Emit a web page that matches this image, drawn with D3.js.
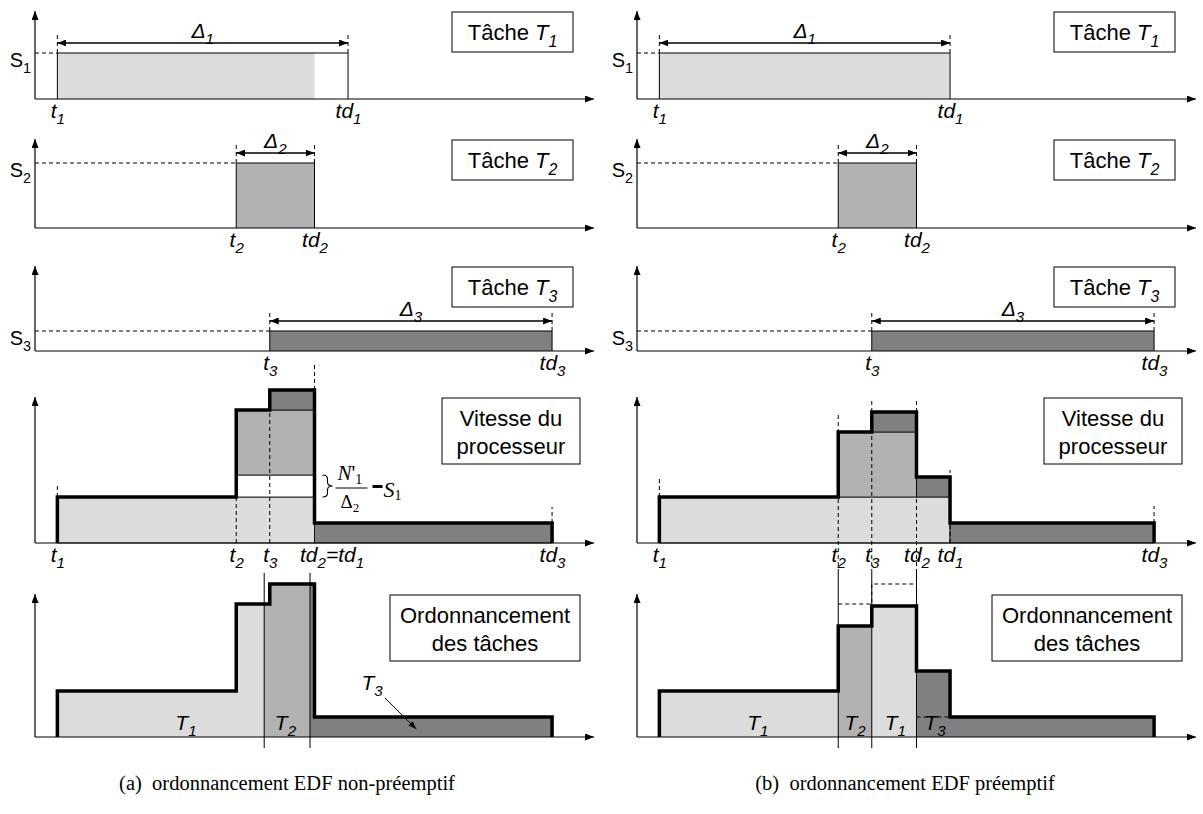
<!DOCTYPE html>
<html lang="fr">
<head>
<meta charset="utf-8">
<title>Ordonnancement EDF</title>
<script src="https://cdn.jsdelivr.net/npm/d3@7/dist/d3.min.js"></script>
<style>
  html, body { margin: 0; padding: 0; background: #fff; }
  svg { display: block; }
  text { white-space: pre; }
</style>
</head>
<body>
<svg id="fig" width="1203" height="814"></svg>
<script>
// ---- task set (time axis 0..100, speed in arbitrary units) ----
const taskNames    = ["T1", "T2", "T3"];
const releaseTimes = [4, 36, 42];
const deadlines    = [56, 50, 92.5];
const taskSpeeds   = [4.6, 6.5, 2.0];
const t1DoneNP     = 50;    // T1 completes at td2 without preemption
const extraSpeedT1 = 2.2;   // N'1/Δ2 − S1

// processor speed profiles: [time, speed] steps
const profileNP = [[4, 4.6], [36, 13.3], [42, 15.3], [50, 2.0], [92.5, 2.0]];
const profileP  = [[4, 4.6], [36, 11.1], [42, 13.1], [50, 6.6], [56, 2.0], [92.5, 2.0]];

// stacked contributions to the processor speed
const layersNP = [
  { task: "T1",    t0: 4,  t1: 50,   s0: 0,    s1: 4.6 },
  { task: "extra", t0: 36, t1: 50,   s0: 4.6,  s1: 6.8 },
  { task: "T2",    t0: 36, t1: 50,   s0: 6.8,  s1: 13.3 },
  { task: "T3",    t0: 42, t1: 50,   s0: 13.3, s1: 15.3 },
  { task: "T3",    t0: 50, t1: 92.5, s0: 0,    s1: 2.0 }
];
const layersP = [
  { task: "T1", t0: 4,  t1: 56,   s0: 0,    s1: 4.6 },
  { task: "T2", t0: 36, t1: 50,   s0: 4.6,  s1: 11.1 },
  { task: "T3", t0: 42, t1: 50,   s0: 11.1, s1: 13.1 },
  { task: "T3", t0: 50, t1: 56,   s0: 4.6,  s1: 6.6 },
  { task: "T3", t0: 56, t1: 92.5, s0: 0,    s1: 2.0 }
];

// execution order on the processor
const scheduleNP = [
  { task: "T1", t0: 4,    t1: 41 },
  { task: "T2", t0: 41,   t1: 49.2 },
  { task: "T3", t0: 49.2, t1: 92.5 }
];
const scheduleP = [
  { task: "T1", t0: 4,  t1: 36 },
  { task: "T2", t0: 36, t1: 42 },
  { task: "T1", t0: 42, t1: 50 },
  { task: "T3", t0: 50, t1: 92.5 }
];
// where each schedule label sits (time)
const schedLabelTimesNP = [27, 44.8];
const schedLabelTimesP  = [21.6, 39, 46.2, 53.3];

// time labels of the speed panels
const speedTicksNP  = [4, 36, 42, 50, 92.5];
const speedLabelsNP = ["t_1", "t_2", "t_3", "td_2=td_1", "td_3"];
const speedTicksP   = [4, 36, 42, 50, 56, 92.5];
const speedLabelsP  = ["t_1", "t_2", "t_3", "td_2", "td_1", "td_3"];

// dashed markers in the speed panels: [time, from speed, to speed]
const guidesNP = [[4, 4.6, 5.8], [36, 0, 4.6], [42, 0, 13.3], [50, 15.3, 18.1], [92.5, 2.0, 3.6]];
const guidesP  = [[4, 4.6, 6.5], [36, -3.0, 12.8], [42, -3.0, 14.2], [50, -3.0, 14.2], [56, 0, 7.3], [92.5, 2.0, 3.7]];

// T3 call-out in the non-preemptive schedule: label, arrow start, arrow end (time, speed)
const t3Callout = { label: [60.3, 4.7], from: [62.6, 3.9], to: [68.2, 0.8] };

// ---- layout ----
const SANS  = "'Liberation Sans', Arial, Helvetica, sans-serif";
const SERIF = "'Liberation Serif', 'Times New Roman', serif";
const FS = 21;          // label font size
const FS_BOX = 22;      // framed titles
const taskColor = { T1: "#dcdcdc", T2: "#b2b2b2", T3: "#808080", extra: "#ffffff" };
const columns = [
  { x0: 35,  x1: 594,  np: true },
  { x0: 637, x1: 1196, np: false }
];
const rowBase = [99, 228, 351, 543, 737];
const rowTop  = [11, 139, 266, 397, 594];
const unitPx = 10;
const switchTop = 573, switchBottom = 748;

const svg = d3.select("#fig");
const defs = svg.append("defs");
function marker(id, w, h) {
  defs.append("marker").attr("id", id)
    .attr("viewBox", `0 0 ${w} ${h}`).attr("refX", w).attr("refY", h / 2)
    .attr("markerWidth", w).attr("markerHeight", h)
    .attr("markerUnits", "userSpaceOnUse").attr("orient", "auto-start-reverse")
    .append("path").attr("d", `M0,0L${w},${h / 2}L0,${h}Z`).attr("fill", "#000");
}
marker("head", 9, 7);
marker("dim", 9, 7);
marker("small", 8, 6);

// text with "_x" subscripts; segs is a string or a list of {s, italic}
function rich(parent, segs, { x = 0, y = 0, size = FS, anchor = "middle", family = SANS, italic = true } = {}) {
  if (typeof segs === "string") segs = [{ s: segs, italic }];
  const t = parent.append("text").attr("x", x).attr("y", y)
    .attr("font-size", size).attr("font-family", family)
    .attr("text-anchor", anchor).attr("fill", "#000");
  const d = size * 0.3;
  let shifted = false;
  segs.forEach(seg => {
    seg.s.split(/_(.)/).forEach((p, i) => {
      if (!p) return;
      const ts = t.append("tspan").text(p).attr("font-style", seg.italic ? "italic" : "normal");
      if (i % 2) { ts.attr("font-size", size * 0.72).attr("dy", d); shifted = true; }
      else if (shifted) { ts.attr("dy", -d); shifted = false; }
    });
  });
  return t;
}

function dashed(sel) {
  return sel.attr("stroke", "#000").attr("stroke-width", 1).attr("stroke-dasharray", "4,3").attr("fill", "none");
}

function yScale(r) {
  return d3.scaleLinear().domain([0, 1]).range([rowBase[r], rowBase[r] - unitPx]);
}

function drawAxes(g, x, r) {
  const ax = g.append("g").attr("transform", `translate(0,${rowBase[r]})`)
    .call(d3.axisBottom(x).tickValues([]).tickSizeOuter(0));
  ax.select(".domain").attr("d", `M${x(0)},0H${x(100)}`)
    .attr("stroke", "#000").attr("stroke-width", 1.2).attr("marker-end", "url(#head)");
  const ys = d3.scaleLinear().domain([0, (rowBase[r] - rowTop[r]) / unitPx]).range([rowBase[r], rowTop[r]]);
  const ay = g.append("g").call(d3.axisLeft(ys).tickValues([]).tickSizeOuter(0));
  ay.select(".domain").attr("d", `M${x(0)},${ys(0)}V${ys.range()[1]}`)
    .attr("stroke", "#000").attr("stroke-width", 1.2).attr("marker-end", "url(#head)");
}

function timeLabels(g, x, r, ticks, labels) {
  const ax = g.append("g").attr("transform", `translate(0,${rowBase[r]})`)
    .call(d3.axisBottom(x).tickValues(ticks).tickSize(0).tickFormat(() => ""));
  ax.select(".domain").remove();
  ax.selectAll(".tick").each(function (d, i) {
    const lab = labels[i];
    const wide = lab.includes("=");
    rich(d3.select(this), lab, { x: wide ? -15 : 0, y: 19, anchor: wide ? "start" : "middle" });
  });
}

function box(g, col, r, lines, left, right, h) {
  const top = rowTop[r] + 1;
  g.append("rect").attr("x", col.x0 + left).attr("y", top)
    .attr("width", right - left).attr("height", h)
    .attr("fill", "#fff").attr("stroke", "#000").attr("stroke-width", 1);
  lines.forEach((ln, k) =>
    rich(g, ln, { x: col.x0 + (left + right) / 2, y: top + 28 + k * 28, italic: false, size: FS_BOX }));
}

function profileAt(profile, t) {
  let v = 0;
  profile.forEach(p => { if (p[0] <= t) v = p[1]; });
  return v;
}
function segmentPoints(profile, a, b) {
  const ts = [a, ...profile.map(p => p[0]).filter(t => t > a && t < b)];
  const pts = ts.map(t => [t, profileAt(profile, t)]);
  pts.push([b, pts[pts.length - 1][1]]);
  return pts;
}
function outlinePoints(profile) {
  const first = profile[0], last = profile[profile.length - 1];
  return [[first[0], 0], ...profile, [last[0], 0]];
}

columns.forEach(col => {
  const x = d3.scaleLinear().domain([0, 100]).range([col.x0, col.x1]);

  // ---- one panel per task ----
  taskNames.forEach((name, i) => {
    const g = svg.append("g");
    const y = yScale(i);
    const r0 = releaseTimes[i], d0 = deadlines[i], s = taskSpeeds[i];
    const fillEnd = (col.np && i === 0) ? t1DoneNP : d0;
    g.append("rect").attr("x", x(r0)).attr("y", y(s))
      .attr("width", x(fillEnd) - x(r0)).attr("height", y(0) - y(s))
      .attr("fill", taskColor[name]);
    g.append("path").attr("d", `M${x(r0)},${y(0)}V${y(s)}H${x(d0)}V${y(0)}`)
      .attr("fill", "none").attr("stroke", "#000").attr("stroke-width", 1);
    dashed(g.append("line").attr("x1", x(0)).attr("x2", x(r0)).attr("y1", y(s)).attr("y2", y(s)));
    rich(g, `S_${i + 1}`, { x: x(0) - 4, y: y(s) + 14, anchor: "end", italic: false, size: 20 });

    const ya = y(s) - 10;
    [r0, d0].forEach(t =>
      dashed(g.append("line").attr("x1", x(t)).attr("x2", x(t)).attr("y1", ya - 8).attr("y2", y(s))));
    g.append("line").attr("x1", x(r0)).attr("x2", x(d0)).attr("y1", ya).attr("y2", ya)
      .attr("stroke", "#000").attr("stroke-width", 1.5)
      .attr("marker-start", "url(#dim)").attr("marker-end", "url(#dim)");
    rich(g, `Δ_${i + 1}`, { x: (x(r0) + x(d0)) / 2, y: ya - 5 });

    drawAxes(g, x, i);
    timeLabels(g, x, i, [r0, d0], [`t_${i + 1}`, `td_${i + 1}`]);
    box(g, col, i, [[{ s: "Tâche ", italic: false }, { s: `T_${i + 1}`, italic: true }]], 417, 538, 40);
  });

  // ---- processor speed ----
  {
    const r = 3, g = svg.append("g"), y = yScale(r);
    const layers = col.np ? layersNP : layersP;
    const profile = col.np ? profileNP : profileP;
    g.selectAll("rect.layer").data(layers).join("rect").attr("class", "layer")
      .attr("x", d => x(d.t0)).attr("y", d => y(d.s1))
      .attr("width", d => x(d.t1) - x(d.t0)).attr("height", d => y(d.s0) - y(d.s1))
      .attr("fill", d => taskColor[d.task]).attr("stroke", "#000").attr("stroke-width", 0.8);
    (col.np ? guidesNP : guidesP).forEach(([t, a, b]) =>
      dashed(g.append("line").attr("x1", x(t)).attr("x2", x(t)).attr("y1", y(a)).attr("y2", y(b))));
    const line = d3.line().x(d => x(d[0])).y(d => y(d[1])).curve(d3.curveStepAfter);
    g.append("path").attr("d", line(outlinePoints(profile)))
      .attr("fill", "none").attr("stroke", "#000").attr("stroke-width", 3.5).attr("stroke-linejoin", "miter");
    drawAxes(g, x, r);
    timeLabels(g, x, r, col.np ? speedTicksNP : speedTicksP, col.np ? speedLabelsNP : speedLabelsP);
    box(g, col, r, ["Vitesse du", "processeur"], 407, 545, 66);

    if (col.np) {
      // brace and expression for the extra speed given to T1
      const xa = x(t1DoneNP) + 8;
      const yT = y(taskSpeeds[0] + extraSpeedT1), yB = y(taskSpeeds[0]);
      const w = 10, ym = (yT + yB) / 2, q = 4, xm = xa + w / 2;
      g.append("path")
        .attr("d", `M${xa},${yT}Q${xm},${yT} ${xm},${yT + q}L${xm},${ym - q}Q${xm},${ym} ${xa + w},${ym}` +
                   `Q${xm},${ym} ${xm},${ym + q}L${xm},${yB - q}Q${xm},${yB} ${xa},${yB}`)
        .attr("fill", "none").attr("stroke", "#000").attr("stroke-width", 1.1);
      const fx = xa + 13, barY = ym + 2;
      const num = g.append("text").attr("x", fx + 2).attr("y", barY - 8)
        .attr("font-family", SERIF).attr("font-size", 21);
      num.append("tspan").attr("font-style", "italic").text("N");
      num.append("tspan").text("'");
      num.append("tspan").attr("font-size", 14).attr("dy", 4).text("1");
      g.append("line").attr("x1", fx).attr("x2", fx + 32).attr("y1", barY).attr("y2", barY)
        .attr("stroke", "#000").attr("stroke-width", 1);
      const den = g.append("text").attr("x", fx + 5).attr("y", barY + 20)
        .attr("font-family", SERIF).attr("font-size", 19);
      den.append("tspan").text("Δ");
      den.append("tspan").attr("font-size", 13).attr("dy", 4).text("2");
      g.append("rect").attr("x", fx + 37).attr("y", barY - 3).attr("width", 10).attr("height", 3).attr("fill", "#000");
      const sv = g.append("text").attr("x", fx + 48).attr("y", barY + 9)
        .attr("font-family", SERIF).attr("font-size", 22);
      sv.append("tspan").attr("font-style", "italic").text("S");
      sv.append("tspan").attr("font-size", 14).attr("dy", 3).text("1");
    }
  }

  // ---- task scheduling ----
  {
    const r = 4, g = svg.append("g"), y = yScale(r);
    const profile = col.np ? profileNP : profileP;
    const sched = col.np ? scheduleNP : scheduleP;
    const area = d3.area().x(d => x(d[0])).y0(y(0)).y1(d => y(d[1])).curve(d3.curveStepAfter);
    sched.forEach(seg =>
      g.append("path").attr("d", area(segmentPoints(profile, seg.t0, seg.t1))).attr("fill", taskColor[seg.task]));
    const line = d3.line().x(d => x(d[0])).y(d => y(d[1])).curve(d3.curveStepAfter);
    if (!col.np) {
      // non-preemptive speed levels for comparison, and the T3 level under its first slot
      dashed(g.append("path").attr("d", line(segmentPoints(profileNP, releaseTimes[1], deadlines[1]))));
      dashed(g.append("path").attr("d", line([[deadlines[1], taskSpeeds[2]], [deadlines[0], taskSpeeds[2]]])));
    }
    sched.slice(1).forEach(seg =>
      g.append("line").attr("x1", x(seg.t0)).attr("x2", x(seg.t0))
        .attr("y1", switchTop).attr("y2", switchBottom).attr("stroke", "#000").attr("stroke-width", 1));
    g.append("path").attr("d", line(outlinePoints(profile)))
      .attr("fill", "none").attr("stroke", "#000").attr("stroke-width", 3.5).attr("stroke-linejoin", "miter");
    const lt = col.np ? schedLabelTimesNP : schedLabelTimesP;
    lt.forEach((t, k) => {
      const nm = sched[k].task;
      rich(g, `T_${nm.slice(1)}`, { x: x(t), y: y(0) - 7 });
    });
    if (col.np) {
      rich(g, "T_3", { x: x(t3Callout.label[0]), y: y(t3Callout.label[1]) });
      g.append("line")
        .attr("x1", x(t3Callout.from[0])).attr("y1", y(t3Callout.from[1]))
        .attr("x2", x(t3Callout.to[0])).attr("y2", y(t3Callout.to[1]))
        .attr("stroke", "#000").attr("stroke-width", 1).attr("marker-end", "url(#small)");
    }
    drawAxes(g, x, r);
    box(g, col, r, ["Ordonnancement", "des tâches"], 355, 545, 66);
  }
});

// captions
svg.append("text").attr("x", 287).attr("y", 790).attr("text-anchor", "middle")
  .attr("font-family", SERIF).attr("font-size", 20.5).text("(a)  ordonnancement EDF non-préemptif");
svg.append("text").attr("x", 905).attr("y", 790).attr("text-anchor", "middle")
  .attr("font-family", SERIF).attr("font-size", 20.5).text("(b)  ordonnancement EDF préemptif");
</script>
</body>
</html>
